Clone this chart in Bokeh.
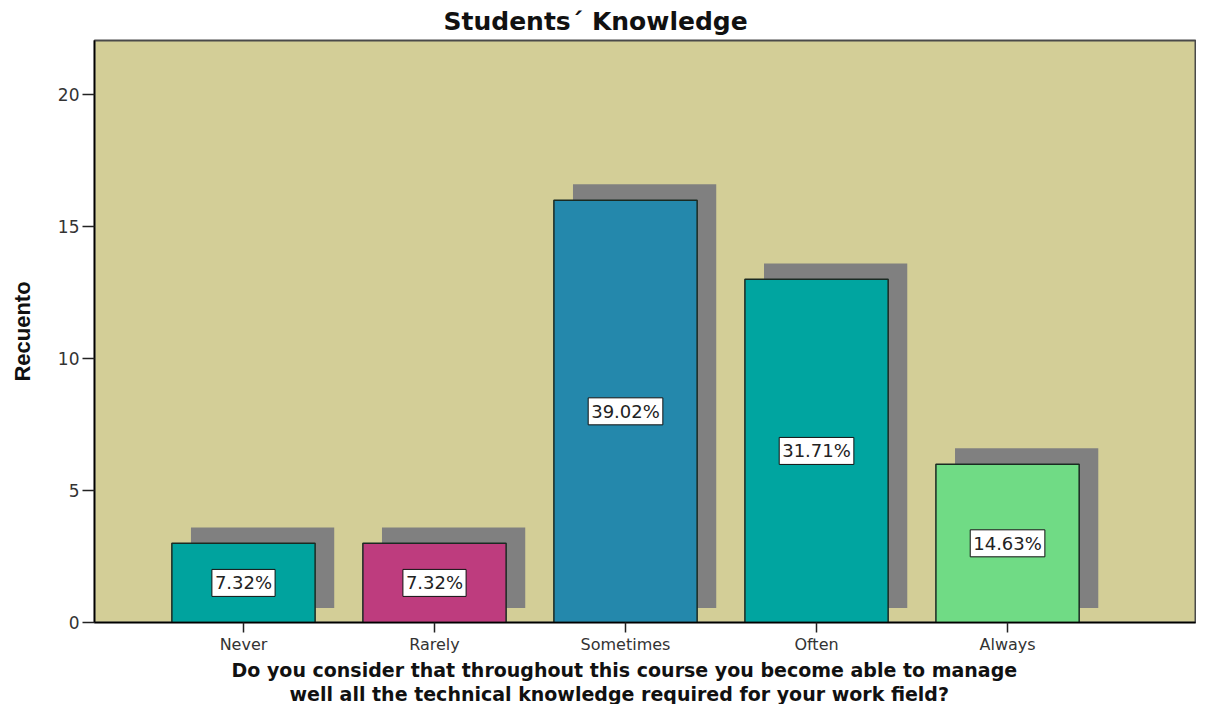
from bokeh.plotting import figure
from bokeh.models import ColumnDataSource, FixedTicker, Range1d, Title
from bokeh.core.properties import value
from bokeh.embed import file_html
from bokeh.resources import INLINE

# ---- data ----
categories = ["Never", "Rarely", "Sometimes", "Often", "Always"]
counts = [3, 3, 16, 13, 6]
percent_labels = ["7.32%", "7.32%", "39.02%", "31.71%", "14.63%"]
bar_colors = ["#00A39E", "#BE3C7E", "#2488AC", "#00A5A0", "#70DB85"]
y_ticks = [0, 5, 10, 15, 20]

title_text = "Students\u00b4 Knowledge"
x_title_1 = "Do you consider that throughout this course you become able to manage"
x_title_2 = "well all the technical knowledge required for your work field?"
y_title = "Recuento"

# ---- geometry / style ----
positions = list(range(1, len(categories) + 1))
bar_w = 0.75
shadow_dx = 0.10
shadow_base = 0.55
shadow_lift = 0.60

src = ColumnDataSource(dict(
    x=positions,
    top=counts,
    color=bar_colors,
    label=percent_labels,
    label_y=[c / 2 for c in counts],
    s_left=[p - bar_w / 2 + shadow_dx for p in positions],
    s_right=[p + bar_w / 2 + shadow_dx for p in positions],
    s_top=[c + shadow_lift for c in counts],
    s_bottom=[shadow_base for _ in counts],
))

p = figure(width=1196, height=704, output_backend="svg", toolbar_location=None,
           x_range=Range1d(0.22, 5.984), y_range=Range1d(0, 22.05),
           min_border_left=94, min_border_right=1, min_border_top=39, min_border_bottom=80)

p.title = Title(text=title_text, align="left", offset=349, standoff=9,
                text_font="DejaVu Sans", text_font_style="bold", text_font_size="25px",
                text_color="#111111")

p.background_fill_color = "#D3CE97"
p.border_fill_color = "white"
p.outline_line_color = "#4a4a4a"
p.outline_line_width = 2
p.xgrid.visible = False
p.ygrid.visible = False

# shadows
p.quad(left="s_left", right="s_right", bottom="s_bottom", top="s_top", source=src,
       fill_color="#808080", line_color=None)
# bars
p.vbar(x="x", top="top", bottom=0, width=bar_w, source=src,
       fill_color="color", line_color="#1a2a22", line_width=1.5)

# percentage labels in white boxes
p.text(x="x", y="label_y", text="label", source=src,
       text_align="center", text_baseline="middle",
       text_font=value("DejaVu Sans"), text_font_size="18px", text_color="#222222",
       background_fill_color="white", border_line_color="#111111",
       border_line_width=1, padding=3)

# axes
p.xaxis.ticker = FixedTicker(ticks=positions)
p.xaxis.major_label_overrides = {pos: name for pos, name in zip(positions, categories)}
p.xaxis.major_tick_out = 10
p.xaxis.major_tick_in = 0
p.xaxis.minor_tick_line_color = None
p.xaxis.major_label_standoff = 2
p.xaxis.axis_line_color = "black"
p.xaxis.axis_line_width = 1.5
p.xaxis.major_tick_line_color = "#222222"
p.xaxis.major_tick_line_width = 1.5
p.xaxis.major_label_text_font = "DejaVu Sans"
p.xaxis.major_label_text_font_size = "16px"
p.xaxis.major_label_text_color = "#333333"

p.yaxis.ticker = FixedTicker(ticks=y_ticks)
p.yaxis.major_tick_out = 12
p.yaxis.major_tick_in = 0
p.yaxis.minor_tick_line_color = None
p.yaxis.major_label_standoff = 3
p.yaxis.axis_line_color = "black"
p.yaxis.axis_line_width = 1.5
p.yaxis.major_tick_line_color = "#222222"
p.yaxis.major_tick_line_width = 1.5
p.yaxis.major_label_text_font = "DejaVu Sans"
p.yaxis.major_label_text_font_size = "17px"
p.yaxis.major_label_text_color = "#333333"
p.yaxis.axis_label = y_title
p.yaxis.axis_label_text_font = "Liberation Sans"
p.yaxis.axis_label_text_font_style = "bold"
p.yaxis.axis_label_text_font_size = "22px"
p.yaxis.axis_label_text_color = "#111111"
p.yaxis.axis_label_standoff = 20

# two-line x-axis title (each line centred on its own offset)
t1 = Title(text=x_title_1, align="left", offset=137, standoff=0, text_line_height=0.9,
           text_font="DejaVu Sans", text_font_style="bold", text_font_size="19px",
           text_color="#111111")
t2 = Title(text=x_title_2, align="left", offset=195, standoff=0, text_line_height=0.9,
           text_font="DejaVu Sans", text_font_style="bold", text_font_size="19px",
           text_color="#111111")
p.add_layout(t1, "below")
p.add_layout(t2, "below")

open("out.html", "w").write(file_html(p, INLINE))
